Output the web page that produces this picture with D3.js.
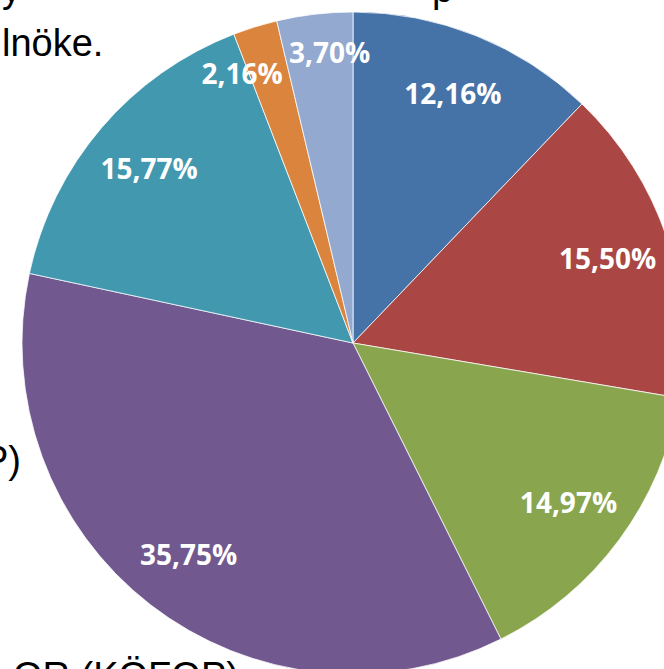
<!DOCTYPE html>
<html>
<head>
<meta charset="utf-8">
<script src="https://cdn.jsdelivr.net/npm/d3@7"></script>
<style>
  body { margin: 0; background: #fff; overflow: hidden; }
  svg { display: block; }
</style>
</head>
<body>
<svg id="chart" width="664" height="669"></svg>
<script>
// slice values, clockwise from 12 o'clock
var labels = ["12,16%", "15,50%", "14,97%", "35,75%", "15,77%", "2,16%", "3,70%"];
var values = [12.16, 15.50, 14.97, 35.75, 15.77, 2.16, 3.70];
var colors = ["#4572a7", "#aa4643", "#89a54e", "#71588f", "#4198af", "#db843d", "#93a9cf"];

// leftover bits of the surrounding document text (cropped)
var sideTexts = [
  { t: "y", x: 2, y: 2, anchor: "start" },
  { t: "p", x: 432, y: 2, anchor: "start" },
  { t: "lnöke.", x: 2, y: 56, anchor: "start" },
  { t: "P)", x: 21, y: 473, anchor: "end" },
  { t: "OR (KÖFOP)", x: 13, y: 689, anchor: "start" }
];

var cx = 353, cy = 343, radius = 331;

var svg = d3.select("#chart");

svg.selectAll("text.side")
  .data(sideTexts)
  .enter().append("text")
    .attr("class", "side")
    .attr("x", function(d) { return d.x; })
    .attr("y", function(d) { return d.y; })
    .attr("text-anchor", function(d) { return d.anchor; })
    .style("font-family", "'Liberation Sans', Arial, sans-serif")
    .style("font-size", "38px")
    .attr("fill", "#000")
    .text(function(d) { return d.t; });

var pie = d3.pie().sort(null).value(function(d) { return d; });
var arcs = pie(values);

var arc = d3.arc().innerRadius(0).outerRadius(radius);

var g = svg.append("g").attr("transform", "translate(" + cx + "," + cy + ")");

g.selectAll("path")
  .data(arcs)
  .enter().append("path")
    .attr("d", arc)
    .attr("fill", function(d, i) { return colors[i]; })
    .attr("stroke", "#fff")
    .attr("stroke-width", 0.75);

// label anchors: mid angle, small slices pushed further out
var lbl = arcs.map(function(d, i) {
  return {
    text: labels[i],
    a: (d.startAngle + d.endAngle) / 2,
    r: d.value < 5 ? radius * 0.88 : radius * 0.81
  };
});

var texts = g.selectAll("text.lbl")
  .data(lbl)
  .enter().append("text")
    .attr("class", "lbl")
    .attr("text-anchor", "middle")
    .attr("dy", "0.36em")
    .style("font-family", "'Open Sans', sans-serif")
    .style("font-weight", "bold")
    .style("font-size", "28px")
    .attr("fill", "#fff")
    .text(function(d) { return d.text; });

texts.each(function(d) { d.w = this.getComputedTextLength() + 6; d.h = 24; });

function pos(d) { return [d.r * Math.sin(d.a), -d.r * Math.cos(d.a)]; }

// nudge neighbouring labels apart along the circle until they stop overlapping
for (var k = 0; k < 200; k++) {
  var moved = false;
  for (var i = 0; i < lbl.length - 1; i++) {
    var p = pos(lbl[i]), q = pos(lbl[i + 1]);
    if (Math.abs(p[0] - q[0]) < (lbl[i].w + lbl[i + 1].w) / 2 &&
        Math.abs(p[1] - q[1]) < (lbl[i].h + lbl[i + 1].h) / 2) {
      lbl[i].a -= 0.01;
      lbl[i + 1].a += 0.004;
      moved = true;
    }
  }
  if (!moved) break;
}

texts.attr("transform", function(d) { return "translate(" + pos(d) + ")"; });
</script>
</body>
</html>
